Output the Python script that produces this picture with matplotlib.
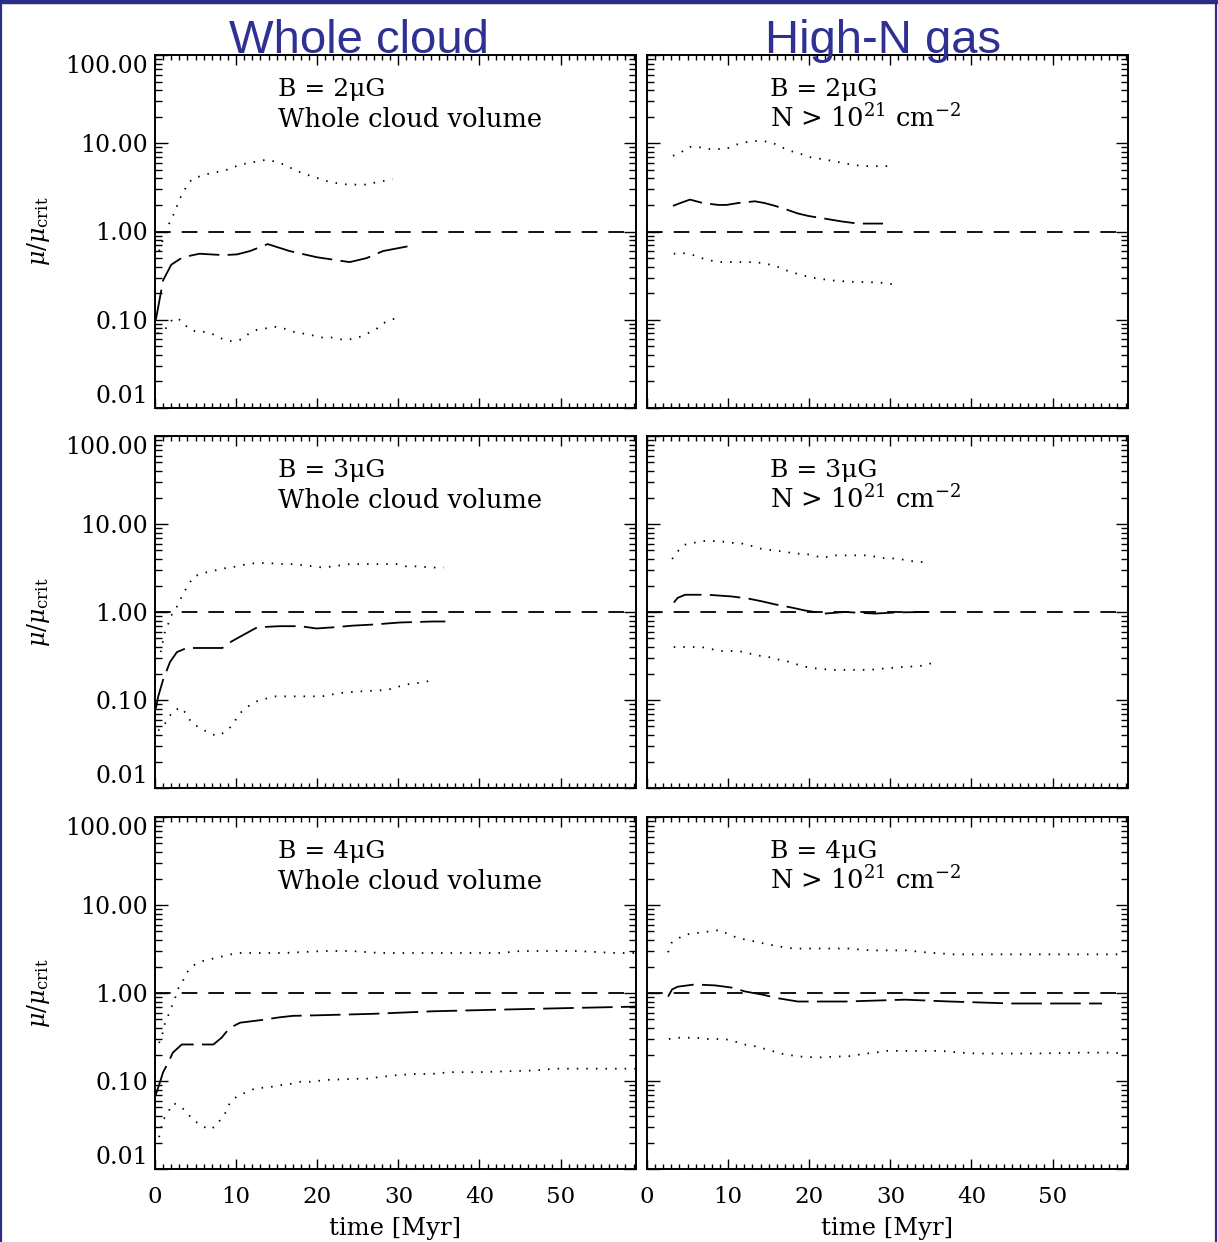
import matplotlib
matplotlib.use("Agg")
import matplotlib.pyplot as plt
from matplotlib.ticker import FixedLocator, MultipleLocator, LogLocator, NullFormatter
from matplotlib.lines import Line2D

# ---------------- data ----------------
# B = 2 muG, whole cloud
b2w_mid_t = [0.1, 0.4, 1.0, 2.0, 3.4, 5.5, 8.4, 10.1, 11.7, 13.9, 16.6, 20.0, 24.0, 26.1, 28.1, 31.2]
b2w_mid_v = [0.10, 0.14, 0.28, 0.42, 0.51, 0.56, 0.54, 0.55, 0.60, 0.72, 0.60, 0.51, 0.45, 0.50, 0.60, 0.68]
b2w_up_t = [0.5, 1.4, 2.0, 2.5, 2.9, 3.4, 4.1, 4.7, 6.9, 8.1, 9.2, 10.4, 12.5, 13.7, 14.8, 16.0, 17.0, 18.1, 21.3, 22.6, 23.8, 26.1, 27.2, 29.3]
b2w_up_v = [0.6, 1.05, 1.38, 1.7, 2.2, 2.7, 3.5, 4.0, 4.6, 4.8, 5.1, 5.7, 6.2, 6.5, 6.2, 5.7, 5.1, 4.6, 3.7, 3.5, 3.4, 3.4, 3.6, 3.9]
b2w_low_t = [0.3, 1.2, 1.7, 2.5, 3.3, 4.1, 5.1, 6.3, 7.4, 8.4, 9.5, 10.7, 11.6, 12.6, 14.8, 16.0, 17.1, 19.3, 20.4, 21.7, 22.8, 24.0, 25.1, 26.2, 27.4, 28.2, 29.2, 30.3]
b2w_low_v = [0.07, 0.076, 0.092, 0.106, 0.097, 0.08, 0.073, 0.073, 0.067, 0.06, 0.057, 0.06, 0.07, 0.077, 0.083, 0.079, 0.073, 0.067, 0.063, 0.063, 0.06, 0.06, 0.063, 0.07, 0.08, 0.092, 0.10, 0.11]

# B = 2 muG, high-N gas
b2h_mid_t = [3.2, 4.1, 5.3, 6.9, 8.8, 9.8, 11.2, 13.3, 14.5, 15.8, 17.0, 18.6, 19.9, 21.9, 24.0, 26.0, 29.1]
b2h_mid_v = [1.95, 2.1, 2.3, 2.1, 2.0, 2.0, 2.1, 2.2, 2.1, 1.95, 1.8, 1.6, 1.5, 1.4, 1.3, 1.23, 1.23]
b2h_up_t = [3.2, 4.2, 5.2, 6.3, 7.4, 9.7, 10.9, 12.0, 13.1, 14.3, 15.4, 16.5, 17.6, 18.6, 19.9, 22.1, 23.3, 24.4, 26.6, 30.1]
b2h_up_v = [7.2, 7.9, 9.1, 9.1, 8.6, 8.6, 9.6, 10.2, 10.6, 10.6, 10.2, 9.1, 8.2, 7.8, 7.0, 6.5, 6.2, 5.9, 5.5, 5.5]
b2h_low_t = [3.3, 4.4, 5.7, 6.7, 7.8, 9.0, 10.2, 13.4, 14.7, 15.8, 16.9, 18.1, 19.1, 20.3, 21.5, 22.6, 24.9, 28.5, 30.7]
b2h_low_v = [0.56, 0.57, 0.54, 0.50, 0.47, 0.45, 0.45, 0.45, 0.43, 0.41, 0.37, 0.34, 0.32, 0.30, 0.29, 0.28, 0.27, 0.265, 0.25]

# B = 3 muG, whole cloud
b3w_mid_t = [0.1, 0.4, 1.0, 1.85, 2.7, 3.9, 5.9, 8.3, 9.2, 10.9, 12.6, 15.4, 17.9, 19.9, 22.0, 24.4, 26.9, 30.2, 34.3, 35.8]
b3w_mid_v = [0.08, 0.11, 0.17, 0.27, 0.35, 0.39, 0.39, 0.39, 0.45, 0.55, 0.67, 0.69, 0.69, 0.65, 0.67, 0.70, 0.72, 0.76, 0.78, 0.78]
b3w_up_t = [0.7, 1.2, 1.7, 2.0, 2.7, 3.6, 4.1, 4.7, 5.8, 9.0, 10.2, 11.3, 12.5, 13.7, 16.0, 17.2, 19.5, 20.7, 21.9, 24.0, 26.3, 28.6, 29.8, 31.0, 32.2, 34.5, 35.6]
b3w_up_v = [0.35, 0.58, 0.76, 0.91, 1.15, 1.7, 2.0, 2.5, 2.75, 3.2, 3.3, 3.5, 3.6, 3.6, 3.5, 3.5, 3.3, 3.2, 3.3, 3.5, 3.5, 3.5, 3.5, 3.3, 3.3, 3.2, 3.2]
b3w_low_t = [0.4, 1.0, 1.7, 2.2, 3.2, 3.9, 4.5, 5.4, 6.5, 7.6, 8.6, 9.5, 10.1, 10.7, 11.6, 12.6, 14.7, 17.0, 20.6, 22.8, 25.2, 28.6, 29.8, 31.0, 32.1, 33.3, 34.3]
b3w_low_v = [0.045, 0.05, 0.063, 0.075, 0.082, 0.069, 0.055, 0.049, 0.043, 0.039, 0.043, 0.051, 0.063, 0.074, 0.086, 0.097, 0.11, 0.11, 0.11, 0.12, 0.125, 0.13, 0.14, 0.15, 0.155, 0.16, 0.17]

# B = 3 muG, high-N gas
b3h_mid_t = [3.3, 3.8, 4.7, 7.5, 10.5, 12.5, 14.2, 15.8, 17.9, 19.5, 21.9, 24.4, 28.1, 30.9, 34.6]
b3h_mid_v = [1.28, 1.45, 1.57, 1.57, 1.50, 1.42, 1.32, 1.22, 1.12, 1.04, 0.96, 1.0, 0.96, 0.99, 1.0]
b3h_up_t = [3.1, 3.7, 4.6, 6.8, 7.9, 9.0, 10.1, 11.3, 12.5, 13.7, 14.9, 17.3, 18.1, 19.4, 20.5, 21.7, 22.8, 24.0, 26.4, 27.5, 28.7, 29.8, 31.1, 33.3, 34.5]
b3h_up_v = [4.0, 4.8, 5.8, 6.4, 6.4, 6.4, 6.1, 6.1, 5.8, 5.3, 5.1, 4.8, 4.6, 4.6, 4.4, 4.1, 4.4, 4.4, 4.4, 4.4, 4.1, 4.1, 4.0, 3.7, 3.7]
b3h_low_t = [3.3, 6.7, 7.9, 9.0, 11.3, 12.5, 13.7, 14.9, 16.0, 17.0, 18.1, 19.4, 20.5, 22.8, 27.4, 29.7, 32.2, 33.2, 34.4, 35.5]
b3h_low_v = [0.40, 0.40, 0.38, 0.36, 0.36, 0.34, 0.32, 0.31, 0.29, 0.28, 0.26, 0.24, 0.23, 0.22, 0.22, 0.23, 0.24, 0.24, 0.25, 0.27]

# B = 4 muG, whole cloud
b4w_mid_t = [0.1, 0.5, 1.0, 1.6, 2.2, 3.3, 4.7, 7.2, 8.2, 9.2, 10.5, 12.9, 15.4, 17.0, 20.7, 26.9, 34.3, 43.4, 52.8, 59.3]
b4w_mid_v = [0.07, 0.09, 0.126, 0.16, 0.21, 0.26, 0.26, 0.26, 0.31, 0.40, 0.46, 0.49, 0.53, 0.55, 0.56, 0.58, 0.62, 0.65, 0.68, 0.70]
b4w_up_t = [0.5, 0.9, 1.2, 2.0, 2.5, 2.8, 3.4, 3.9, 4.7, 5.8, 9.0, 10.1, 16.0, 20.7, 24.2, 27.7, 32.4, 39.2, 42.7, 45.0, 52.0, 56.8, 59.3]
b4w_up_v = [0.27, 0.34, 0.44, 0.68, 0.89, 1.1, 1.35, 1.7, 2.05, 2.3, 2.7, 2.85, 2.85, 3.0, 3.0, 2.85, 2.85, 2.85, 2.85, 3.0, 3.0, 2.85, 2.85]
b4w_low_t = [0.5, 1.0, 1.7, 2.3, 3.3, 4.1, 4.7, 5.8, 6.7, 7.6, 8.1, 8.8, 9.2, 10.1, 11.2, 12.3, 14.4, 15.5, 16.8, 17.9, 19.1, 21.3, 24.9, 26.0, 27.4, 29.6, 31.9, 34.0, 36.4, 39.8, 47.0, 49.3, 59.3]
b4w_low_v = [0.023, 0.036, 0.046, 0.056, 0.05, 0.042, 0.036, 0.031, 0.028, 0.031, 0.037, 0.045, 0.056, 0.067, 0.074, 0.082, 0.086, 0.09, 0.093, 0.098, 0.098, 0.103, 0.106, 0.106, 0.11, 0.116, 0.12, 0.12, 0.126, 0.126, 0.132, 0.138, 0.138]

# B = 4 muG, high-N gas
b4h_mid_t = [2.6, 3.1, 3.8, 5.9, 8.4, 10.5, 12.1, 14.2, 16.2, 18.6, 24.4, 31.8, 37.4, 45.0, 56.1]
b4h_mid_v = [0.91, 1.1, 1.18, 1.25, 1.22, 1.15, 1.04, 0.96, 0.87, 0.80, 0.80, 0.84, 0.80, 0.76, 0.76]
b4h_up_t = [2.6, 3.0, 4.6, 9.0, 10.1, 11.3, 12.4, 13.6, 14.7, 15.8, 16.9, 18.1, 24.9, 27.5, 31.9, 34.3, 37.8, 51.9, 58.8]
b4h_up_v = [2.9, 3.7, 4.6, 5.2, 4.6, 4.2, 4.0, 3.8, 3.6, 3.45, 3.3, 3.2, 3.2, 3.05, 3.05, 2.9, 2.75, 2.75, 2.75]
b4h_low_t = [2.7, 3.8, 6.2, 7.4, 9.6, 10.9, 12.0, 13.2, 14.3, 15.4, 16.5, 18.7, 21.1, 23.5, 24.7, 27.0, 28.2, 29.3, 30.4, 35.0, 36.3, 38.5, 40.8, 47.8, 53.8, 57.3, 58.7]
b4h_low_v = [0.30, 0.31, 0.31, 0.30, 0.30, 0.28, 0.26, 0.25, 0.235, 0.22, 0.205, 0.19, 0.185, 0.19, 0.19, 0.205, 0.21, 0.22, 0.22, 0.22, 0.22, 0.21, 0.205, 0.205, 0.21, 0.21, 0.205]

field_labels = ["B = 2μG", "B = 3μG", "B = 4μG"]
region_labels = ["Whole cloud volume", r"N > 10$^{21}$ cm$^{-2}$"]
column_titles = ["Whole cloud", "High-N gas"]
ytick_values = [0.01, 0.1, 1.0, 10.0, 100.0]
ytick_labels = ["0.01", "0.10", "1.00", "10.00", "100.00"]
xtick_values = [0, 10, 20, 30, 40, 50]
xtick_labels = ["0", "10", "20", "30", "40", "50"]
critical_value = 1.0

# ---------------- style ----------------
plt.rcParams['font.family'] = ['DejaVu Serif']
plt.rcParams['mathtext.fontset'] = 'dejavuserif'
plt.rcParams['lines.scale_dashes'] = False

W, H = 1218, 1242
fig = plt.figure(figsize=(W / 100, H / 100), dpi=100)
fig.patch.set_facecolor('white')

col_x = [155, 647]
ax_w = 481
rows_y = [(55, 408), (436, 788), (817, 1169)]
XMAX = 59.3

panels = [
    [(b2w_mid_t, b2w_mid_v, b2w_up_t, b2w_up_v, b2w_low_t, b2w_low_v),
     (b2h_mid_t, b2h_mid_v, b2h_up_t, b2h_up_v, b2h_low_t, b2h_low_v)],
    [(b3w_mid_t, b3w_mid_v, b3w_up_t, b3w_up_v, b3w_low_t, b3w_low_v),
     (b3h_mid_t, b3h_mid_v, b3h_up_t, b3h_up_v, b3h_low_t, b3h_low_v)],
    [(b4w_mid_t, b4w_mid_v, b4w_up_t, b4w_up_v, b4w_low_t, b4w_low_v),
     (b4h_mid_t, b4h_mid_v, b4h_up_t, b4h_up_v, b4h_low_t, b4h_low_v)],
]

dot_style = dict(color='black', lw=1.3, ls=(0, (1.1, 5.8)))
mid_style = dict(color='black', lw=1.3, ls=(0, (22, 6)))
crit_style = dict(color='black', lw=1.3, ls=(0, (11.3, 7.9)))

for r in range(3):
    top, bot = rows_y[r]
    for c in range(2):
        left = col_x[c]
        ax = fig.add_axes([left / W, 1 - bot / H, ax_w / W, (bot - top) / H])
        mt, mv, ut, uv, lt, lv = panels[r][c]
        ax.set_yscale('log')
        ax.set_ylim(0.01, 100)
        ax.set_xlim(0, XMAX)
        ax.axhline(critical_value, **crit_style)
        ax.plot(ut, uv, **dot_style)
        ax.plot(lt, lv, **dot_style)
        ax.plot(mt, mv, **mid_style)

        for s in ax.spines.values():
            s.set_linewidth(1.4)
        ax.xaxis.set_major_locator(FixedLocator(xtick_values))
        ax.xaxis.set_minor_locator(MultipleLocator(1))
        ax.yaxis.set_major_locator(FixedLocator(ytick_values))
        ax.yaxis.set_minor_locator(LogLocator(base=10, subs=range(2, 10), numticks=20))
        ax.yaxis.set_minor_formatter(NullFormatter())
        ax.tick_params(which='both', direction='in', top=True, right=True, width=1.0)
        ax.tick_params(axis='x', which='major', length=7, pad=12)
        ax.tick_params(axis='x', which='minor', length=3.5)
        ax.tick_params(axis='y', which='major', length=9, pad=5)
        ax.tick_params(axis='y', which='minor', length=5)

        if c == 0:
            ax.set_yticklabels(ytick_labels, fontsize=17)
            lbls = ax.get_yticklabels()
            lbls[-1].set_va('top')
            lbls[0].set_va('bottom')
        else:
            ax.set_yticklabels([])
        if r == 2:
            ax.set_xticklabels(xtick_labels, fontsize=16.5)
            ax.set_xlabel("time [Myr]", fontsize=17.5, labelpad=7)
        else:
            ax.set_xticklabels([])

        ax.text(0.2557, 0.884, field_labels[r], transform=ax.transAxes,
                fontsize=18, ha='left', va='baseline')
        ax.text(0.2557, 0.796, region_labels[c], transform=ax.transAxes,
                fontsize=18.5, ha='left', va='baseline')

    fig.text(38 / W, 1 - ((top + bot) / 2) / H, r"$\mu/\mu_{\rm crit}$",
             rotation=90, ha='center', va='center', fontsize=17)

title_color = '#2E3192'
fig.text(359 / W, 1 - 53 / H, column_titles[0], color=title_color,
         fontsize=34, family='Liberation Sans', ha='center', va='baseline')
fig.text(883 / W, 1 - 53 / H, column_titles[1], color=title_color,
         fontsize=34, family='Liberation Sans', ha='center', va='baseline')

# slide frame
frame_color = '#2B2D86'
fig.add_artist(Line2D([0, 1], [1 - 2 / H, 1 - 2 / H], transform=fig.transFigure, color=frame_color, lw=3.2))
fig.add_artist(Line2D([1 / W, 1 / W], [0, 1], transform=fig.transFigure, color=frame_color, lw=1.6))
fig.add_artist(Line2D([1 - 2 / W, 1 - 2 / W], [0, 1], transform=fig.transFigure, color=frame_color, lw=1.6))

fig.savefig("out.png", dpi=100, facecolor='white')
